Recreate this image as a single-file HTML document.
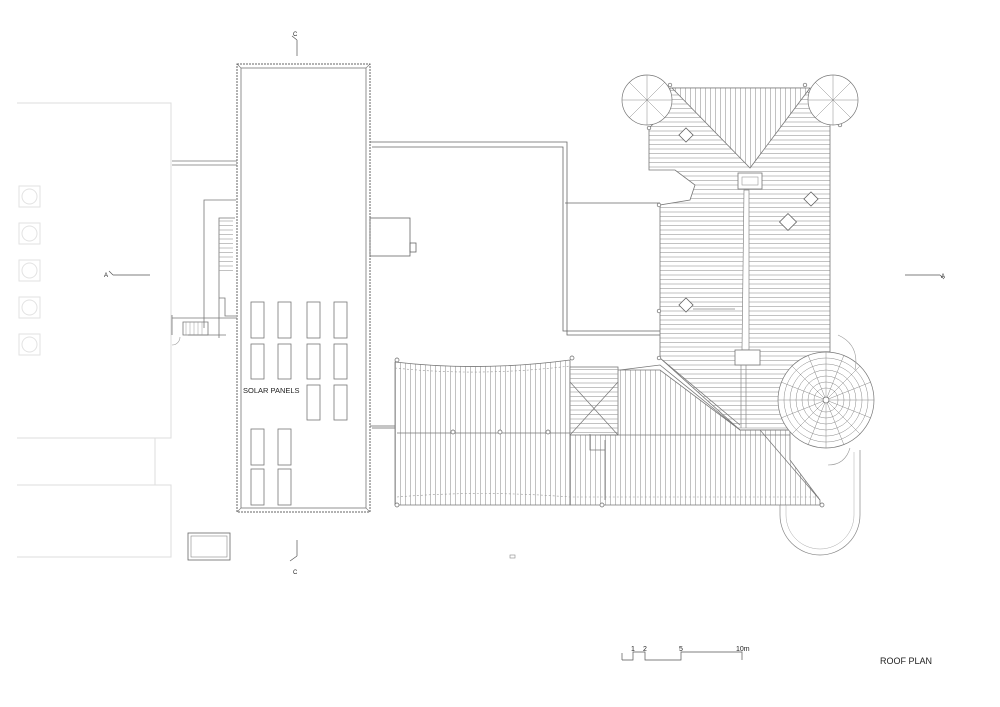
<!DOCTYPE html>
<html><head><meta charset="utf-8"><style>
html,body{margin:0;padding:0;background:#fff;}
svg{display:block}
text{font-family:"Liberation Sans",sans-serif;fill:#222}
</style></head><body>
<svg width="1000" height="707" viewBox="0 0 1000 707" xmlns="http://www.w3.org/2000/svg">
<defs>
<pattern id="hh" width="10" height="4.5" patternUnits="userSpaceOnUse"><line x1="0" y1="0.5" x2="10" y2="0.5" stroke="#999" stroke-width="0.6"/></pattern>
<pattern id="vh" width="5" height="10" patternUnits="userSpaceOnUse"><line x1="0.5" y1="0" x2="0.5" y2="10" stroke="#999" stroke-width="0.6"/></pattern>
</defs>
<rect width="1000" height="707" fill="#fff"/>

<g fill="none" stroke="#ddd" stroke-width="1">
<path d="M17 103 H171 V438 H17"/>
<path d="M17 438 H171 M155 438 V485 H171 V557 H17 M17 485 H155"/>
<g stroke="#e2e2e2">
<rect x="19" y="186" width="21" height="21"/><circle cx="29.5" cy="196.5" r="7.5"/>
<rect x="19" y="223" width="21" height="21"/><circle cx="29.5" cy="233.5" r="7.5"/>
<rect x="19" y="260" width="21" height="21"/><circle cx="29.5" cy="270.5" r="7.5"/>
<rect x="19" y="297" width="21" height="21"/><circle cx="29.5" cy="307.5" r="7.5"/>
<rect x="19" y="334" width="21" height="21"/><circle cx="29.5" cy="344.5" r="7.5"/>
</g>
</g>

<g fill="none" stroke="#777" stroke-width="0.8">
<path d="M172 161 H237 M172 165 H237"/>
<path d="M204 328 V200 H236"/>
<path d="M219 338 V218 H235 M219 298 H225 V316 H236"/>
<path d="M183 322 H208 V335 H183 Z"/>
<path d="M172 315 V335 M172 318 H237"/>
<path d="M188 335 H226"/>
</g>
<rect x="219" y="219" width="14" height="52" fill="url(#hh)"/>
<g stroke="#999" stroke-width="0.5">
<line x1="186" y1="322" x2="186" y2="335"/><line x1="190" y1="322" x2="190" y2="335"/><line x1="194" y1="322" x2="194" y2="335"/><line x1="198" y1="322" x2="198" y2="335"/><line x1="202" y1="322" x2="202" y2="335"/>
</g>
<path d="M172 345 A8 8 0 0 0 180 337" fill="none" stroke="#999" stroke-width="0.6"/>

<rect x="237" y="64" width="133" height="448" fill="none" stroke="#666" stroke-width="1" stroke-dasharray="2 1"/>
<rect x="241" y="68" width="125" height="440" fill="none" stroke="#777" stroke-width="0.8"/>
<path d="M237 64 L241 68 M370 64 L366 68 M237 512 L241 508 M370 512 L366 508" stroke="#777" stroke-width="0.6"/>
<g fill="none" stroke="#777" stroke-width="0.8">
<rect x="251" y="302" width="13" height="36"/><rect x="278" y="302" width="13" height="36"/><rect x="307" y="302" width="13" height="36"/><rect x="334" y="302" width="13" height="36"/>
<rect x="251" y="344" width="13" height="35"/><rect x="278" y="344" width="13" height="35"/><rect x="307" y="344" width="13" height="35"/><rect x="334" y="344" width="13" height="35"/>
<rect x="307" y="385" width="13" height="35"/><rect x="334" y="385" width="13" height="35"/>
<rect x="251" y="429" width="13" height="36"/><rect x="278" y="429" width="13" height="36"/>
<rect x="251" y="469" width="13" height="36"/><rect x="278" y="469" width="13" height="36"/>
</g>
<text x="243" y="393" font-size="7.5">SOLAR PANELS</text>

<g fill="none" stroke="#666" stroke-width="0.8">
<path d="M370 142 H567 V335 H660"/>
<path d="M372 147 H563 V331 H660"/>
<path d="M565 203 H660"/>
<rect x="370" y="218" width="40" height="38"/>
<rect x="410" y="243" width="6" height="9"/>
<path d="M370 426 H395 M372 428 H395"/>
</g>

<path d="M670 88 H805 L830 122 V355 L800 372 L790 430 H740 L660 358 V205 L690 200 L695 185 L675 170 H649 V128 L670 108 Z" fill="url(#hh)" stroke="#777" stroke-width="0.8"/>
<path d="M672 88 L750 168 L810 88 Z" fill="#fff"/>
<path d="M672 88 L750 168 L810 88 Z" fill="url(#vh)" stroke="#777" stroke-width="0.8"/>
<rect x="738" y="173" width="24" height="16" fill="#fff" stroke="#777" stroke-width="0.8"/>
<rect x="742" y="177" width="16" height="8" fill="none" stroke="#999" stroke-width="0.6"/>
<path d="M744 190 H749 V350 H742 Z" fill="#fff" stroke="#888" stroke-width="0.7"/>
<rect x="735" y="350" width="25" height="15" fill="#fff" stroke="#777" stroke-width="0.8"/>
<path d="M741 365 V428 M746 365 V428" stroke="#888" stroke-width="0.7"/>
<g fill="#fff" stroke="#666" stroke-width="0.8">
<rect x="681" y="130" width="10" height="10" transform="rotate(45 686 135)"/>
<rect x="806" y="194" width="10" height="10" transform="rotate(45 811 199)"/>
<rect x="782" y="216" width="12" height="12" transform="rotate(45 788 222)"/>
<rect x="681" y="300" width="10" height="10" transform="rotate(45 686 305)"/>
</g>
<path d="M693 309 H735" stroke="#888" stroke-width="0.7"/>

<path d="M395 362 Q480 372 570 360 L570 505 H395 Z" fill="url(#vh)" stroke="#777" stroke-width="0.8"/>
<path d="M570 370 L660 370 L740 430 L790 430 L790 460 L820 500 L820 505 L570 505 Z" fill="url(#vh)" stroke="#777" stroke-width="0.8"/>
<path d="M395 368 Q480 377 570 366 M397 497 Q480 490 570 497 L820 497" fill="none" stroke="#999" stroke-width="0.6" stroke-dasharray="2 2"/>
<path d="M397 433 H570" stroke="#777" stroke-width="0.8"/>
<rect x="570" y="367" width="48" height="68" fill="#fff" stroke="#777" stroke-width="0.8"/>
<rect x="570" y="367" width="48" height="68" fill="url(#hh)"/>
<path d="M570 382 L618 435 M618 382 L570 435" stroke="#777" stroke-width="0.7"/>
<path d="M620 370 L660 365 L740 430 M660 358 L740 425" fill="none" stroke="#777" stroke-width="0.8"/>
<path d="M600 435 H790 M605 440 V500 M590 434 V450 H605" fill="none" stroke="#777" stroke-width="0.8"/>
<path d="M760 430 L820 500" stroke="#777" stroke-width="0.7"/>
<g fill="#fff" stroke="#666" stroke-width="0.7">
<circle cx="453" cy="432" r="2"/><circle cx="500" cy="432" r="2"/><circle cx="548" cy="432" r="2"/>
<circle cx="397" cy="360" r="2"/><circle cx="572" cy="358" r="2"/><circle cx="397" cy="505" r="2"/><circle cx="602" cy="505" r="2"/><circle cx="822" cy="505" r="2"/>
<circle cx="649" cy="128" r="1.8"/><circle cx="659" cy="205" r="1.8"/><circle cx="659" cy="311" r="1.8"/><circle cx="659" cy="358" r="1.8"/><circle cx="670" cy="85" r="1.8"/><circle cx="805" cy="85" r="1.8"/><circle cx="840" cy="125" r="1.8"/>
</g>

<g stroke="#777" stroke-width="0.7" fill="#fff">
<circle cx="647" cy="100" r="25"/><circle cx="833" cy="100" r="25"/>
<circle cx="826" cy="400" r="48"/>
</g>
<g stroke="#888" stroke-width="0.5" fill="none">
<path d="M622 100 H672 M647 75 V125 M629 82 L665 118 M665 82 L629 118"/>
<path d="M808 100 H858 M833 75 V125 M815 82 L851 118 M851 82 L815 118"/>
<circle cx="826" cy="400" r="42"/><circle cx="826" cy="400" r="36"/><circle cx="826" cy="400" r="30"/><circle cx="826" cy="400" r="24"/><circle cx="826" cy="400" r="18"/><circle cx="826" cy="400" r="12"/>
<path d="M778 400 H874 M826 352 V448 M792 366 L860 434 M860 366 L792 434 M808 355 L844 445 M844 355 L808 445 M781 382 L871 418 M871 382 L781 418"/>
</g>
<circle cx="826" cy="400" r="3" fill="#fff" stroke="#666" stroke-width="0.7"/>
<path d="M838 335 Q860 345 855 370 M850 448 Q845 465 828 465" fill="none" stroke="#999" stroke-width="0.6"/>
<path d="M780 505 L780 515 A40 40 0 0 0 860 515 V450" fill="none" stroke="#888" stroke-width="0.7"/>
<path d="M786 505 L786 515 A34 34 0 0 0 854 515 V452" fill="none" stroke="#aaa" stroke-width="0.5"/>

<rect x="188" y="533" width="42" height="27" fill="none" stroke="#666" stroke-width="0.8"/>
<rect x="191" y="536" width="36" height="21" fill="none" stroke="#888" stroke-width="0.6"/>
<rect x="510" y="555" width="5" height="3" fill="none" stroke="#888" stroke-width="0.6"/>

<g stroke="#555" stroke-width="0.7" fill="none">
<path d="M297 40 V56 M297 40 L292 36"/>
<path d="M297 540 V556 M297 556 L290 561"/>
<path d="M113 275 H150 M113 275 L109 271"/>
<path d="M905 275 H940 M940 275 L944 279"/>
</g>
<text x="293" y="36" font-size="6">C</text>
<text x="293" y="574" font-size="6">C</text>
<text x="104" y="277" font-size="6">A</text>
<text x="941" y="278" font-size="6">A</text>

<path d="M622 660 V653 M622 660 H633 V652 H645 V660 H681 V652 H742 V660" fill="none" stroke="#555" stroke-width="0.7"/>
<text x="631" y="651" font-size="7">1</text>
<text x="643" y="651" font-size="7">2</text>
<text x="679" y="651" font-size="7">5</text>
<text x="736" y="651" font-size="7">10m</text>
<text x="880" y="664" font-size="9">ROOF PLAN</text>
</svg>
</body></html>
